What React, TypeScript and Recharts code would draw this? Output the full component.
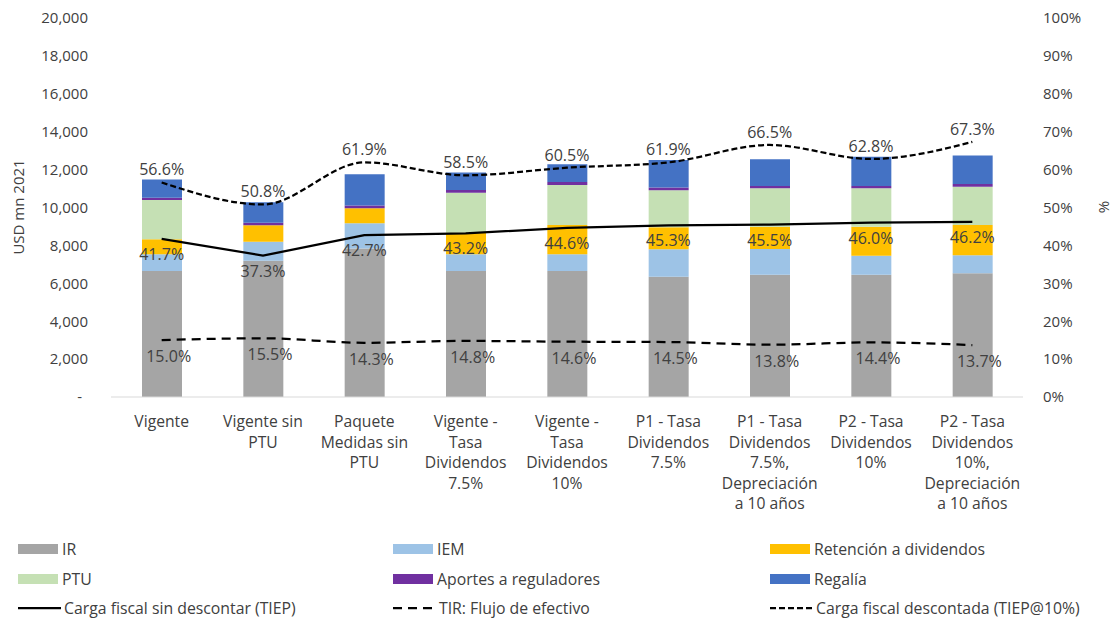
import React from 'react';
import { Bar, ComposedChart, Line, XAxis, YAxis } from 'recharts';

// categorías (saltos de línea tal como aparecen en el eje)
const CATEGORIES = [
  'Vigente',
  'Vigente sin\nPTU',
  'Paquete\nMedidas sin\nPTU',
  'Vigente -\nTasa\nDividendos\n7.5%',
  'Vigente -\nTasa\nDividendos\n10%',
  'P1 - Tasa\nDividendos\n7.5%',
  'P1 - Tasa\nDividendos\n7.5%,\nDepreciación\na 10 años',
  'P2 - Tasa\nDividendos\n10%',
  'P2 - Tasa\nDividendos\n10%,\nDepreciación\na 10 años',
];

// USD mn 2021
const IR = [6650, 7190, 7830, 6650, 6650, 6350, 6450, 6450, 6530];
const IEM = [880, 1000, 1340, 880, 880, 1450, 1360, 1000, 950];
const RETENCION = [790, 870, 790, 1140, 1550, 1160, 1180, 1530, 1600];
const PTU = [2070, 0, 0, 2110, 2110, 1950, 2030, 2030, 2020];
const APORTES = [120, 140, 140, 140, 160, 140, 120, 120, 140];
const REGALIA = [970, 1080, 1660, 930, 930, 1460, 1410, 1550, 1510];

// %
const CARGA_SIN_DESCONTAR = [41.7, 37.3, 42.7, 43.2, 44.6, 45.3, 45.5, 46.0, 46.2];
const TIR = [15.0, 15.5, 14.3, 14.8, 14.6, 14.5, 13.8, 14.4, 13.7];
const CARGA_DESCONTADA = [56.6, 50.8, 61.9, 58.5, 60.5, 61.9, 66.5, 62.8, 67.3];

const LEFT_TICKS = [0, 2000, 4000, 6000, 8000, 10000, 12000, 14000, 16000, 18000, 20000];
const RIGHT_TICKS = [0, 10, 20, 30, 40, 50, 60, 70, 80, 90, 100];

const FONT = '"Open Sans", "Noto Sans", sans-serif';
const TEXT = '#404040';

const data = CATEGORIES.map((name, i) => ({
  name,
  ir: IR[i],
  iem: IEM[i],
  ret: RETENCION[i],
  ptu: PTU[i],
  aportes: APORTES[i],
  regalia: REGALIA[i],
  sinDesc: CARGA_SIN_DESCONTAR[i],
  tir: TIR[i],
  desc: CARGA_DESCONTADA[i],
}));

const BARS = [
  { key: 'ir', name: 'IR', color: '#a5a5a5' },
  { key: 'iem', name: 'IEM', color: '#9dc3e6' },
  { key: 'ret', name: 'Retención a dividendos', color: '#ffc000' },
  { key: 'ptu', name: 'PTU', color: '#c5e0b4' },
  { key: 'aportes', name: 'Aportes a reguladores', color: '#7030a0' },
  { key: 'regalia', name: 'Regalía', color: '#4472c4' },
];

const LINES = [
  { key: 'sinDesc', name: 'Carga fiscal sin descontar (TIEP)', dash: undefined, type: 'linear', dy: 15, dx: 0 },
  { key: 'tir', name: 'TIR: Flujo de efectivo', dash: '9 6', type: 'monotone', dy: 16, dx: 7 },
  { key: 'desc', name: 'Carga fiscal descontada (TIEP@10%)', dash: '6 3', type: 'monotone', dy: -13, dx: 0 },
];

function CategoryTick({ x, y, payload }: any) {
  const lines = String(payload.value).split('\n');
  return (
    <g transform={`translate(${x},${y})`}>
      {lines.map((line, i) => (
        <text key={i} x={0} y={0} dy={22 + i * 20.6} textAnchor="middle" fill={TEXT} fontSize={15.7} fontFamily={FONT}>
          {line}
        </text>
      ))}
    </g>
  );
}

function LeftTick({ x, y, payload }: any) {
  const v = payload.value as number;
  return (
    <text x={v === 0 ? x - 6 : x} y={y} dy="0.355em" textAnchor="end" fill={TEXT} fontSize={15} fontFamily={FONT}>
      {v === 0 ? '-' : v.toLocaleString('en-US')}
    </text>
  );
}

const pointLabel = (dx: number, dy: number) => (props: any) => {
  const { x, y, value, index } = props;
  return (
    <text
      key={index}
      x={x + dx}
      y={y + dy}
      textAnchor="middle"
      dominantBaseline="central"
      fill={TEXT}
      fontSize={16}
      fontFamily={FONT}
    >
      {Number(value).toFixed(1)}%
    </text>
  );
};

function LegendBlock() {
  const items = [
    ...BARS.map((b) => ({ name: b.name, color: b.color, line: false, dash: undefined as string | undefined })),
    ...LINES.map((l) => ({ name: l.name, color: '#000', line: true, dash: l.dash })),
  ];
  const cols = [18, 393, 770];
  const rows = [549, 579, 608];
  return (
    <>
      {items.map((it, i) => {
        const left = cols[i % 3];
        const top = rows[Math.floor(i / 3)];
        return (
          <div
            key={it.name}
            style={{ position: 'absolute', left, top: top - 11, height: 22, display: 'flex', alignItems: 'center', whiteSpace: 'nowrap' }}
          >
            {it.line ? (
              <svg width={43} height={10} style={{ marginRight: 3 }}>
                <line x1={0} y1={5} x2={43} y2={5} stroke="#000" strokeWidth={2.25} strokeDasharray={it.dash} />
              </svg>
            ) : (
              <span style={{ display: 'inline-block', width: 40, height: 10, background: it.color, marginRight: 4 }} />
            )}
            <span style={{ fontSize: 15.8, color: TEXT, fontFamily: FONT }}>{it.name}</span>
          </div>
        );
      })}
    </>
  );
}

export default function App() {
  return (
    <div style={{ position: 'relative', width: 1114, height: 623, background: '#fff', fontFamily: FONT }}>
      <style>{'body{margin:0}'}</style>
      <ComposedChart width={1114} height={530} data={data} margin={{ top: 18, right: 0, bottom: 0, left: 0 }}>
        <XAxis
          dataKey="name"
          interval={0}
          height={133}
          tickLine={false}
          axisLine={{ stroke: '#d9d9d9' }}
          tick={<CategoryTick />}
        />
        <YAxis
          yAxisId="left"
          width={111}
          domain={[0, 20000]}
          ticks={LEFT_TICKS}
          axisLine={false}
          tickLine={false}
          tickSize={0}
          tickMargin={23}
          tick={<LeftTick />}
        />
        <YAxis
          yAxisId="right"
          orientation="right"
          width={91}
          domain={[0, 100]}
          ticks={RIGHT_TICKS}
          axisLine={false}
          tickLine={false}
          tickSize={0}
          tickMargin={20}
          tick={{ fill: TEXT, fontSize: 15, fontFamily: FONT }}
          tickFormatter={(v: number) => `${v}%`}
        />
        {BARS.map((b) => (
          <Bar
            key={b.key}
            yAxisId="left"
            dataKey={b.key}
            name={b.name}
            stackId="a"
            fill={b.color}
            barSize={40}
            isAnimationActive={false}
          />
        ))}
        {LINES.map((l) => (
          <Line
            key={l.key}
            yAxisId="right"
            dataKey={l.key}
            name={l.name}
            type={l.type as any}
            stroke="#000"
            strokeWidth={2.25}
            strokeDasharray={l.dash}
            dot={false}
            activeDot={false}
            label={pointLabel(l.dx, l.dy)}
            isAnimationActive={false}
          />
        ))}
      </ComposedChart>
      <div
        style={{
          position: 'absolute',
          left: 18,
          top: 207,
          transform: 'translate(-50%, -50%) rotate(-90deg)',
          fontSize: 15,
          color: TEXT,
          whiteSpace: 'nowrap',
        }}
      >
        USD mn 2021
      </div>
      <div
        style={{
          position: 'absolute',
          left: 1103,
          top: 207,
          transform: 'translate(-50%, -50%) rotate(-90deg)',
          fontSize: 15,
          color: TEXT,
        }}
      >
        %
      </div>
      <LegendBlock />
    </div>
  );
}
